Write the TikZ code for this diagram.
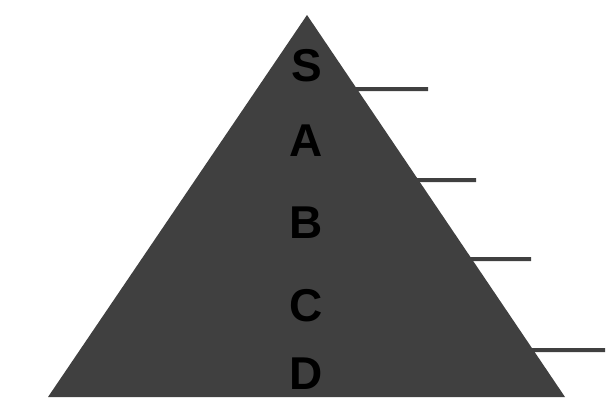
\documentclass[tikz,border=0pt]{standalone}
\usepackage{fontspec}
\setmainfont{Liberation Sans}
\usepackage{tikz}
\usetikzlibrary{calc, positioning}
\definecolor{pyrgray}{HTML}{404040}
\tikzset{
  level/.style={font=\fontsize{46}{46}\selectfont\bfseries, text=black, anchor=base, inner sep=0pt},
  tick/.style={draw=pyrgray, line width=4pt}
}

\begin{document}
\begin{tikzpicture}[x=1pt, y=-1pt]
      \useasboundingbox (0,0) rectangle (615,405);
      \fill[pyrgray] (307,15) -- (565,397) -- (48,397) -- cycle;
      % levels, from the top down
      \foreach \name/\base in {S/81, A/156, B/238, C/321, D/389}{
        \node[level] (\name) at (306.5, \base) {\name};
        }
      % ticks on the right edge
      \foreach \y/\x [count = \i] in {89/428, 180/476, 259/531, 350/605}{
        \coordinate (e\i) at ($(307,15)!{(\y-15)/382}!(565,397)$);
        \coordinate (t\i) at (\x, \y);
        \draw[tick] ($(e\i)+(-2,0)$) -- (t\i);
        }
    \end{tikzpicture}
\end{document}
